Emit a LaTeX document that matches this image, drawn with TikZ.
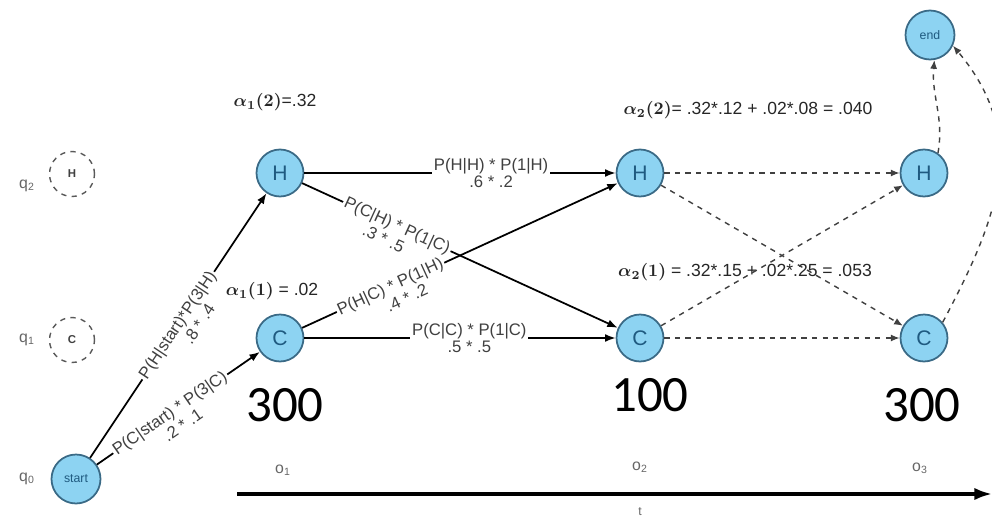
\documentclass[tikz,border=0pt]{standalone}
\usepackage{fontspec}
\usepackage{bm}
\newfontfamily\lblfont{Liberation Sans}
\newfontfamily\bigfont{Carlito}
\usetikzlibrary{arrows.meta}
\definecolor{nodefill}{HTML}{8DD3F2}
\definecolor{nodeedge}{HTML}{3A6A86}
\definecolor{nodetext}{HTML}{1F5A80}

\begin{document}
\begin{tikzpicture}[x=0.02cm, y=0.02cm,
  state/.style={circle, draw=nodeedge, fill=nodefill, line width=1pt, minimum size=0.94cm, inner sep=0pt, text=nodetext, font=\lblfont\fontsize{12}{12}\selectfont},
  ghost/.style={circle, draw=black!65, dashed, line width=0.8pt, minimum size=0.9cm, inner sep=0pt, text=black!75, font=\lblfont\bfseries\fontsize{6.5}{6.5}\selectfont},
  trans/.style={-{Latex[length=6pt,width=4.5pt]}, line width=1pt},
  dtrans/.style={-{Latex[length=5pt,width=4pt]}, dashed, black!75, line width=0.8pt},
  prob/.style={sloped, fill=white, inner sep=1pt, align=center, text=black!75, font=\lblfont\fontsize{9.5}{10}\selectfont},
  probv/.style={sloped, anchor=north, inner xsep=1pt, inner ysep=5.5pt, text=black!75, font=\lblfont\fontsize{9.5}{10}\selectfont},
  fwd/.style={text=black!85, font=\lblfont\fontsize{10}{10}\selectfont},
  obs/.style={font=\bigfont\fontsize{29}{29}\selectfont},
  tick/.style={text=black!60, font=\lblfont\fontsize{9}{9}\selectfont}]

  \useasboundingbox (0,0) rectangle (992,522);

  % -- State labels and legend --
  \node[tick] (q2) at (27,336) {q\textsubscript{2}};
  \node[tick] (q1) at (27,182) {q\textsubscript{1}};
  \node[tick] (q0) at (27,43) {q\textsubscript{0}};
  \node[ghost] (gH) at (72,348) {H};
  \node[ghost] (gC) at (72,182) {C};

  % -- Trellis states --
  \node[state, minimum size=0.98cm, font=\lblfont\fontsize{7}{7}\selectfont] (start) at (76,43) {start};
  \node[state] (H1) at (280,349) {H};
  \node[state] (C1) at (280,184) {C};
  \node[state] (H2) at (640,349) {H};
  \node[state] (C2) at (640,184) {C};
  \node[state] (H3) at (924,349) {H};
  \node[state] (C3) at (924,184) {C};
  \node[state, minimum size=0.98cm, font=\lblfont\fontsize{7}{7}\selectfont] (end) at (930,487) {end};

  % -- Forward values --
  \node[fwd] (a12) at (275,420) {$\bm{\alpha_1(2)}$=.32};
  \node[fwd] (a11) at (272,231) {$\bm{\alpha_1(1)}$ = .02};
  \node[fwd] (a22) at (748,412) {$\bm{\alpha_2(2)}$= .32*.12 + .02*.08 = .040};
  \node[fwd] (a21) at (745,250) {$\bm{\alpha_2(1)}$ = .32*.15 + .02*.25 = .053};

  % -- First step --
  \draw[trans] (start) -- node[prob, pos=0.5] (pHs) {P(H|start)*P(3|H)}
    node[probv, pos=0.54] {.8 * .4} (H1);
  \draw[trans] (start) -- node[prob, pos=0.45] (pCs) {P(C|start) * P(3|C)}
    node[probv, pos=0.47] {.2 * .1} (C1);

  % -- Second step --
  \draw[trans] (H1) -- node[prob, pos=0.6] {P(H|H) * P(1|H)\\.6 * .2} (H2);
  \draw[trans] (C1) -- node[prob, pos=0.53] {P(C|C) * P(1|C)\\.5 * .5} (C2);
  \draw[trans] (C1) -- node[prob, pos=0.28] {P(H|C) * P(1|H)}
    node[probv, pos=0.31] {.4 * .2} (H2);
  \draw[trans] (H1) -- node[prob, pos=0.3] {P(C|H) * P(1|C)}
    node[probv, pos=0.28] {.3 * .5} (C2);

  % -- Third step --
  \draw[dtrans] (H2) -- (H3);
  \draw[dtrans] (H2) -- (C3);
  \draw[dtrans] (C2) -- (H3);
  \draw[dtrans] (C2) -- (C3);
  \draw[dtrans] (H3.55) to[out=80, in=-95] (end.-80);
  \draw[dtrans] (C3.40) to[out=62, in=-50, looseness=1.1] (end.-25);

  % -- Observations --
  \node[obs] (ob1) at (285,117) {300};
  \node[obs] (ob2) at (650,127) {100};
  \node[obs] (ob3) at (922,117) {300};
  \node[tick] (o1) at (283,52) {o\textsubscript{1}};
  \node[tick] (o2) at (640,55) {o\textsubscript{2}};
  \node[tick] (o3) at (920,54) {o\textsubscript{3}};

  % -- Time axis --
  \coordinate (axL) at (237,28);
  \coordinate (axR) at (992,28);
  \draw[-{Latex[length=10pt,width=7pt]}, line width=1.8pt] (axL) -- (axR);
  \node[tick, font=\lblfont\fontsize{7}{7}\selectfont] (t) at (640,10) {t};

\end{tikzpicture}
\end{document}
